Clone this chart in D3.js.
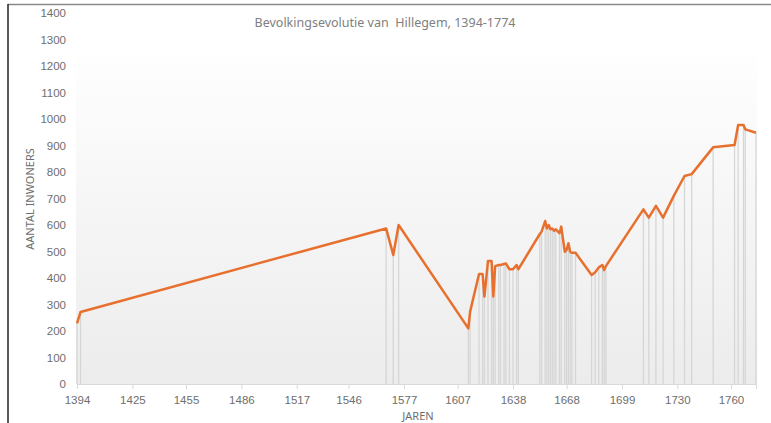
<!DOCTYPE html>
<html>
<head>
<meta charset="utf-8">
<script src="https://cdn.jsdelivr.net/npm/d3@7"></script>
<style>
  body { margin: 0; background: #fff; }
  svg { display: block; font-family: "Noto Sans", sans-serif; }
</style>
</head>
<body>
<div id="chart"></div>
<script>
// years and inhabitants
const years = [1394, 1396, 1567, 1571, 1574, 1613, 1614, 1619, 1621, 1622, 1624, 1626, 1627, 1628, 1630, 1631, 1633, 1634, 1636, 1638, 1640, 1641,
  1653, 1654, 1656, 1657, 1658, 1659, 1660, 1661, 1662, 1664, 1665, 1667, 1668, 1669, 1670, 1671, 1673,
  1682, 1684, 1686, 1688, 1689, 1690, 1711, 1714, 1718, 1722, 1728, 1734, 1738, 1750, 1762, 1764, 1767, 1768, 1774];
const inwoners = [229, 272, 587, 487, 600, 210, 273, 415, 415, 330, 464, 464, 330, 445, 449, 449, 453, 455, 433, 433, 449, 433,
  566, 575, 615, 587, 600, 584, 587, 578, 584, 569, 594, 499, 506, 531, 499, 495, 495,
  411, 422, 440, 449, 430, 445, 659, 628, 672, 628, 710, 785, 792, 893, 902, 977, 977, 961, 948];
const xTicks = [1394, 1425, 1455, 1486, 1517, 1546, 1577, 1607, 1638, 1668, 1699, 1730, 1760];
const yTicks = [0, 100, 200, 300, 400, 500, 600, 700, 800, 900, 1000, 1100, 1200, 1300, 1400];

const data = years.map((y, i) => ({ year: y, value: inwoners[i] }));

const width = 771, height = 423;
const svg = d3.select('#chart').append('svg')
  .attr('width', width)
  .attr('height', height);

// frame
svg.append('line').attr('x1', 8).attr('x2', width).attr('y1', 4.5).attr('y2', 4.5)
  .attr('stroke', '#8a8a8a').attr('stroke-width', 1.5);
svg.append('line').attr('x1', 8).attr('x2', 8).attr('y1', 4).attr('y2', height)
  .attr('stroke', '#222').attr('stroke-width', 1.5);

const x = d3.scaleLinear().domain([1394, 1774]).range([77, 756]);
const y = d3.scaleLinear().domain([0, 1400]).range([384, 13]);

// soft gradient behind the plot
const grad = svg.append('defs').append('linearGradient')
  .attr('id', 'bg').attr('x1', 0).attr('x2', 0).attr('y1', 0).attr('y2', 1);
grad.append('stop').attr('offset', '0%').attr('stop-color', '#fefefe');
grad.append('stop').attr('offset', '100%').attr('stop-color', '#ececec');
svg.append('rect')
  .attr('x', 76).attr('y', 57)
  .attr('width', 681).attr('height', 384 - 57)
  .attr('fill', 'url(#bg)');

// drop lines
svg.append('g').selectAll('line')
  .data(data)
  .enter()
  .append('line')
  .attr('x1', d => x(d.year)).attr('x2', d => x(d.year))
  .attr('y1', d => y(d.value)).attr('y2', y(0))
  .attr('stroke', '#d6d6d6')
  .attr('stroke-width', 1.3);

// x axis
const xAxis = svg.append('g')
  .attr('transform', `translate(0,${y(0)})`)
  .call(d3.axisBottom(x).tickValues(xTicks).tickFormat(d3.format('d')).tickSizeOuter(0).tickSize(5).tickPadding(7));
xAxis.select('.domain').attr('stroke', '#d9d9d9');
xAxis.selectAll('.tick line').attr('stroke', '#d9d9d9');
xAxis.selectAll('text').attr('fill', '#6e6e6e').attr('font-size', 11.5);

// y axis
const yAxis = svg.append('g')
  .attr('transform', 'translate(70,0)')
  .call(d3.axisLeft(y).tickValues(yTicks).tickFormat(d3.format('d')).tickSize(0).tickPadding(4));
yAxis.select('.domain').remove();
yAxis.selectAll('text').attr('fill', '#6e6e6e').attr('font-size', 11.5);

// line
svg.append('path')
  .datum(data)
  .attr('fill', 'none')
  .attr('stroke', '#e8702e')
  .attr('stroke-width', 2.5)
  .attr('stroke-linejoin', 'round')
  .attr('d', d3.line().x(d => x(d.year)).y(d => y(d.value)));

// texts
svg.append('text')
  .attr('x', 385).attr('y', 27)
  .attr('text-anchor', 'middle')
  .attr('fill', '#808080')
  .attr('font-size', 12.5)
  .attr('xml:space', 'preserve')
  .text('Bevolkingsevolutie van  Hillegem, 1394-1774');

svg.append('text')
  .attr('x', 418).attr('y', 420)
  .attr('text-anchor', 'middle')
  .attr('fill', '#6e6e6e')
  .attr('font-size', 11)
  .text('JAREN');

svg.append('text')
  .attr('transform', 'translate(34,199) rotate(-90)')
  .attr('text-anchor', 'middle')
  .attr('fill', '#6e6e6e')
  .attr('font-size', 11)
  .text('AANTAL INWONERS');
</script>
</body>
</html>
